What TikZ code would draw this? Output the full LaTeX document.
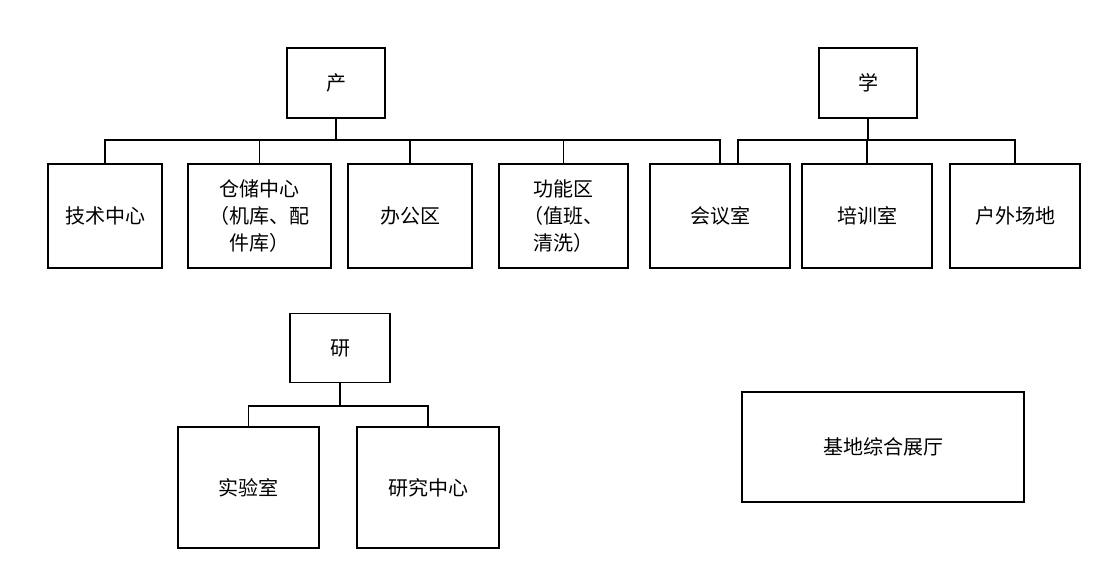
\documentclass[tikz,border=0pt]{standalone}
\usepackage{fontspec}
\setmainfont{Noto Sans CJK SC}
\begin{document}
\begin{tikzpicture}[x=1pt,y=-1pt,line width=1.3pt]
\tikzset{
  box/.style={draw, align=center, inner sep=0pt, font=\fontsize{20}{27}\selectfont},
  top/.style={box, minimum width=98pt, minimum height=70pt},
  unit/.style={box, minimum height=104pt},
}
\useasboundingbox (0,0) rectangle (1116,580);
% -------------------------------------------------
\node [top] (chan) at (336,83) {产};
\node [top] (xue) at (868,83) {学};
\node [top, minimum width=100pt, minimum height=69pt] (yan) at (340,348) {研};

\node [unit, minimum width=114pt] (jishu) at (105,216) {技术中心};
\node [unit, minimum width=143pt] (cangchu) at (259.5,216) {仓储中心\\（机库、配\\件库）};
\node [unit, minimum width=124pt] (bangong) at (410,216) {办公区};
\node [unit, minimum width=129pt] (gongneng) at (563.5,216) {功能区\\（值班、\\清洗）};
\node [unit, minimum width=140pt] (huiyi) at (720,216) {会议室};
\node [unit, minimum width=130pt] (peixun) at (867,216) {培训室};
\node [unit, minimum width=130pt] (huwai) at (1015,216) {户外场地};

\node [box, minimum width=141pt, minimum height=121pt] (shiyan) at (248.5,487.5) {实验室};
\node [box, minimum width=142pt, minimum height=121pt] (yanjiu) at (428,487.5) {研究中心};

\node [box, minimum width=282pt, minimum height=110pt] (zhanting) at (883,447) {基地综合展厅};
% -------------------------------------------------
\coordinate (chanbus) at (336,140);
\coordinate (xuebus) at (868,140);
\coordinate (yanbus) at (340,406);

\draw (chan) -- (chanbus);
\foreach \n in {jishu,cangchu,bangong,gongneng,huiyi}
  \draw (chanbus) -| (\n.north);
\draw (xue) -- (xuebus);
\draw (xuebus) -| ([xshift=18pt]huiyi.north);
\foreach \n in {peixun,huwai}
  \draw (xuebus) -| (\n.north);
\draw (yan) -- (yanbus);
\foreach \n in {shiyan,yanjiu}
  \draw (yanbus) -| (\n.north);
\end{tikzpicture}
\end{document}
